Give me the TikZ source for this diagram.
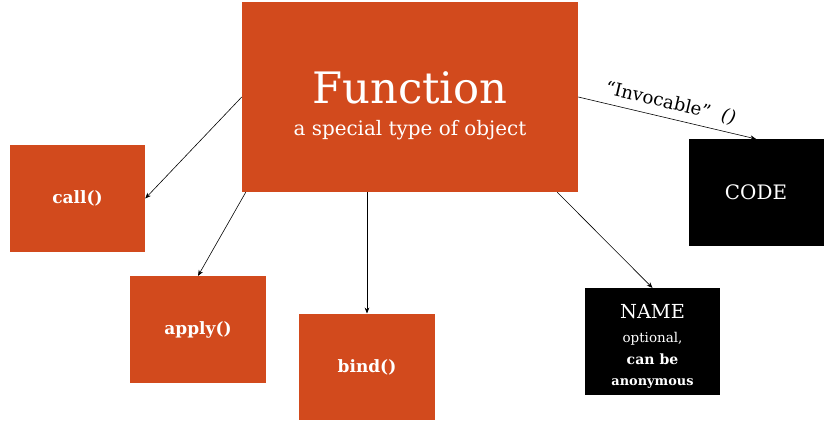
\documentclass[tikz,border=0pt]{standalone}
\usepackage{fontspec}
\setmainfont{DejaVu Serif}
\usetikzlibrary{arrows.meta}
\definecolor{fnorange}{RGB}{210,74,29}

\tikzset{
    orangebox/.style={fill=fnorange, text=white, minimum width=4.05cm, minimum height=3.2cm, inner sep=0pt, align=center},
    blackbox/.style={fill=black, text=white, minimum width=4.05cm, minimum height=3.2cm, inner sep=0pt, align=center},
    link/.style={line width=0.5pt, -{Stealth[length=5pt,width=4pt]}}
}

\begin{document}
\begin{tikzpicture}[x=0.03cm, y=-0.03cm]
    \useasboundingbox (0,0) rectangle (831,427);

    % main box
    \node[orangebox, minimum width=10.08cm, minimum height=5.7cm, font=\fontsize{17}{27}\selectfont] (fn) at (410,97)
        {\rule{0pt}{42pt}\fontsize{37}{40}\selectfont Function\\\fontsize{17}{27}\selectfont a special type of object};

    % methods
    \node[orangebox] (call)  at (77.5,198.5) {\fontsize{14.5}{17}\selectfont\bfseries call()};
    \node[orangebox] (apply) at (198,329.5)  {\fontsize{14.5}{17}\selectfont\bfseries apply()};
    \node[orangebox] (bind)  at (367,367)    {\fontsize{14.5}{17}\selectfont\bfseries bind()};

    % properties
    \node[blackbox] (code) at (756,192.5) {\fontsize{17}{20}\selectfont CODE};
    \node[blackbox, font=\fontsize{12}{18}\selectfont] (name) at (652.5,341.5)
        {\rule{0pt}{20pt}\fontsize{16.5}{20}\selectfont NAME\\[3pt]\fontsize{11.5}{18}\selectfont optional,\\\fontsize{12}{18}\selectfont\bfseries can be\\\fontsize{11}{18}\selectfont\bfseries anonymous};

    \draw[link] (fn.west) -- (call.east);
    \draw[link] ([xshift=0.12cm]fn.south west) -- (apply.north);
    \draw[link] (fn.south -| bind.north) -- (bind.north);
    \draw[link] ([xshift=-0.63cm]fn.south east) -- (name.north);
    \draw[link] (fn.east) -- node[above=2pt, sloped, font=\fontsize{15.5}{18}\selectfont] {``Invocable''\ \ \textit{()}} (code.north);
\end{tikzpicture}
\end{document}
